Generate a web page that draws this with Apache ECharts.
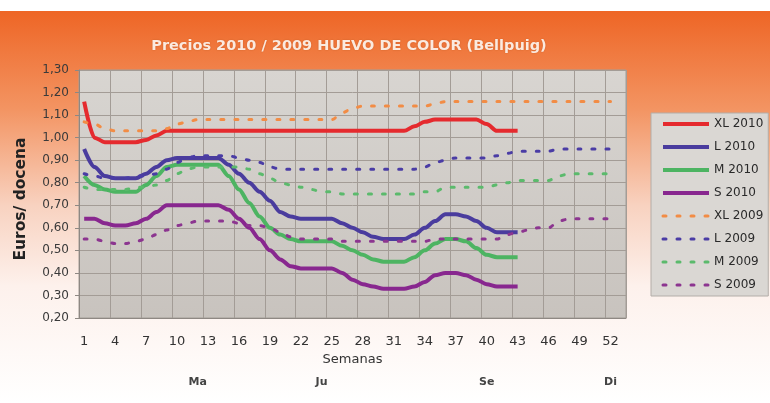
<!DOCTYPE html>
<html>
  <head>
      <meta charset="utf-8">
      <script src="https://cdn.jsdelivr.net/npm/echarts@6/dist/echarts.min.js"></script>
  </head>
  <body style="margin:0">
    <div id="main" style="width: 770px;height:403px;"></div>
    <script type="text/javascript">
        // weeks of the year (one extra slot at the end, like the original sheet)
        var weeks = [1,2,3,4,5,6,7,8,9,10,11,12,13,14,15,16,17,18,19,20,21,22,23,24,25,26,
                     27,28,29,30,31,32,33,34,35,36,37,38,39,40,41,42,43,44,45,46,47,48,49,50,51,52,53];

        // months written under the axis
        var monthWeeks = [12, 24, 40, 52];
        var monthNames = ['Ma', 'Ju', 'Se', 'Di'];

        // 2010 prices (weeks 1-43)
        var xl2010 = [1.16,1.00,0.98,0.98,0.98,0.98,0.99,1.01,1.03,1.03,1.03,1.03,1.03,1.03,1.03,1.03,1.03,1.03,1.03,1.03,
                      1.03,1.03,1.03,1.03,1.03,1.03,1.03,1.03,1.03,1.03,1.03,1.03,1.05,1.07,1.08,1.08,1.08,1.08,1.08,1.06,
                      1.03,1.03,1.03];
        var l2010  = [0.95,0.87,0.83,0.82,0.82,0.82,0.84,0.87,0.90,0.91,0.91,0.91,0.91,0.91,0.88,0.84,0.80,0.76,0.72,0.67,
                      0.65,0.64,0.64,0.64,0.64,0.62,0.60,0.58,0.56,0.55,0.55,0.55,0.57,0.60,0.63,0.66,0.66,0.65,0.63,0.60,
                      0.58,0.58,0.58];
        var m2010  = [0.83,0.79,0.77,0.76,0.76,0.76,0.79,0.83,0.87,0.88,0.88,0.88,0.88,0.88,0.83,0.77,0.71,0.65,0.60,0.57,
                      0.55,0.54,0.54,0.54,0.54,0.52,0.50,0.48,0.46,0.45,0.45,0.45,0.47,0.50,0.53,0.55,0.55,0.54,0.51,0.48,
                      0.47,0.47,0.47];
        var s2010  = [0.64,0.64,0.62,0.61,0.61,0.62,0.64,0.67,0.70,0.70,0.70,0.70,0.70,0.70,0.68,0.64,0.60,0.55,0.50,0.46,
                      0.43,0.42,0.42,0.42,0.42,0.40,0.37,0.35,0.34,0.33,0.33,0.33,0.34,0.36,0.39,0.40,0.40,0.39,0.37,0.35,
                      0.34,0.34,0.34];

        // 2009 prices (weeks 1-52)
        var xl2009 = [1.07,1.06,1.04,1.03,1.03,1.03,1.03,1.03,1.04,1.06,1.07,1.08,1.08,1.08,1.08,1.08,1.08,1.08,1.08,1.08,
                      1.08,1.08,1.08,1.08,1.08,1.11,1.13,1.14,1.14,1.14,1.14,1.14,1.14,1.14,1.15,1.16,1.16,1.16,1.16,1.16,
                      1.16,1.16,1.16,1.16,1.16,1.16,1.16,1.16,1.16,1.16,1.16,1.16];
        var l2009  = [0.84,0.83,0.82,0.82,0.82,0.83,0.83,0.84,0.86,0.89,0.91,0.92,0.92,0.92,0.92,0.91,0.90,0.89,0.87,0.86,
                      0.86,0.86,0.86,0.86,0.86,0.86,0.86,0.86,0.86,0.86,0.86,0.86,0.86,0.87,0.89,0.90,0.91,0.91,0.91,0.91,
                      0.92,0.93,0.94,0.94,0.94,0.94,0.95,0.95,0.95,0.95,0.95,0.95];
        var m2009  = [0.78,0.77,0.77,0.77,0.77,0.78,0.78,0.79,0.81,0.84,0.86,0.87,0.87,0.87,0.87,0.87,0.86,0.84,0.82,0.80,
                      0.79,0.78,0.77,0.76,0.76,0.75,0.75,0.75,0.75,0.75,0.75,0.75,0.75,0.76,0.76,0.78,0.78,0.78,0.78,0.78,
                      0.79,0.80,0.81,0.81,0.81,0.81,0.83,0.84,0.84,0.84,0.84,0.84];
        var s2009  = [0.55,0.55,0.54,0.53,0.53,0.54,0.55,0.57,0.59,0.61,0.62,0.63,0.63,0.63,0.63,0.62,0.61,0.61,0.60,0.58,
                      0.56,0.55,0.55,0.55,0.55,0.54,0.54,0.54,0.54,0.54,0.54,0.54,0.54,0.54,0.55,0.55,0.55,0.55,0.55,0.55,
                      0.55,0.57,0.58,0.59,0.60,0.60,0.63,0.64,0.64,0.64,0.64,0.64];

        var myChart = echarts.init(document.getElementById('main'));

        var font = 'DejaVu Sans';
        var dash = [3, 11];

        function solid(name, data, color) {
            return {
                name: name, type: 'line', data: data, symbol: 'none',
                smooth: 0.3, smoothMonotone: 'x',
                lineStyle: { color: color, width: 4 },
                itemStyle: { color: color }
            };
        }
        function dashed(name, data, color) {
            return {
                name: name, type: 'line', data: data, symbol: 'none',
                smooth: 0.3, smoothMonotone: 'x',
                lineStyle: { color: color, width: 3, type: dash, cap: 'round' },
                itemStyle: { color: color }
            };
        }

        var option = {
            animation: false,
            backgroundColor: {
                type: 'linear', x: 0, y: 0, x2: 0, y2: 1,
                colorStops: [
                    { offset: 0, color: '#EE6626' },
                    { offset: 0.03, color: '#EE6626' },
                    { offset: 0.27, color: '#F39462' },
                    { offset: 0.51, color: '#F8D2C0' },
                    { offset: 0.71, color: '#FDF1EC' },
                    { offset: 1, color: '#FFFFFF' }
                ]
            },
            graphic: [{
                type: 'rect', silent: true,
                shape: { x: 0, y: 0, width: 770, height: 11 },
                style: { fill: '#ffffff' }
            }],
            title: {
                text: 'Precios 2010 / 2009 HUEVO DE COLOR (Bellpuig)',
                left: 344,
                top: 34,
                textAlign: 'center',
                textStyle: {
                    fontFamily: font,
                    fontSize: 14.5,
                    fontWeight: 'bold',
                    color: '#FBEADF',
                    textShadowColor: 'rgba(140,50,0,0.35)',
                    textShadowBlur: 2
                }
            },
            legend: {
                orient: 'vertical',
                left: 651,
                top: 113,
                padding: [5, 5, 5, 10],
                itemWidth: 46,
                itemHeight: 14,
                itemGap: 11,
                itemStyle: { opacity: 0 },
                backgroundColor: '#DAD7D3',
                borderColor: '#B3ADA8',
                borderWidth: 1,
                textStyle: { fontFamily: font, fontSize: 12, color: '#2a2a2a' },
                data: [
                    { name: 'XL 2010', lineStyle: { width: 4 } },
                    { name: 'L 2010', lineStyle: { width: 4 } },
                    { name: 'M 2010', lineStyle: { width: 4 } },
                    { name: 'S 2010', lineStyle: { width: 4 } },
                    { name: 'XL 2009', lineStyle: { width: 3, type: dash, cap: 'round' } },
                    { name: 'L 2009', lineStyle: { width: 3, type: dash, cap: 'round' } },
                    { name: 'M 2009', lineStyle: { width: 3, type: dash, cap: 'round' } },
                    { name: 'S 2009', lineStyle: { width: 3, type: dash, cap: 'round' } }
                ]
            },
            grid: {
                left: 79, right: 144, top: 70, bottom: 85,
                show: true,
                backgroundColor: {
                    type: 'linear', x: 0, y: 0, x2: 0, y2: 1,
                    colorStops: [
                        { offset: 0, color: '#D8D5D1' },
                        { offset: 1, color: '#C8C3BE' }
                    ]
                },
                borderColor: '#A29C97',
                borderWidth: 1
            },
            xAxis: [{
                type: 'category',
                data: weeks,
                boundaryGap: true,
                name: 'Semanas',
                nameLocation: 'middle',
                nameGap: 33,
                nameTextStyle: { fontFamily: font, fontSize: 13, color: '#333' },
                axisLine: { lineStyle: { color: '#8E8883' } },
                axisTick: { interval: 2, length: 5, lineStyle: { color: '#8E8883' } },
                splitLine: { show: true, interval: 2, lineStyle: { color: '#A39C96' } },
                axisLabel: { interval: 2, margin: 17, fontFamily: font, fontSize: 13, color: '#333' }
            }, {
                type: 'category',
                data: weeks,
                boundaryGap: true,
                position: 'bottom',
                offset: 51,
                axisLine: { show: false },
                axisTick: { show: false },
                splitLine: { show: false },
                axisLabel: {
                    interval: 0, margin: 8,
                    fontFamily: font, fontSize: 11, fontWeight: 'bold', color: '#444',
                    formatter: function (v) {
                        var i = monthWeeks.indexOf(Number(v));
                        return i >= 0 ? monthNames[i] : '';
                    }
                }
            }],
            yAxis: {
                type: 'value',
                min: 0.2,
                max: 1.3,
                interval: 0.1,
                name: 'Euros/ docena',
                nameLocation: 'middle',
                nameGap: 50,
                nameRotate: 90,
                nameTextStyle: {
                    fontFamily: font, fontSize: 15.5, fontWeight: 'bold', color: '#222',
                    padding: [0, 10, 0, 0]
                },
                axisLine: { show: true, lineStyle: { color: '#8E8883' } },
                axisTick: { show: true, length: 4, lineStyle: { color: '#8E8883' } },
                splitLine: { lineStyle: { color: '#A39C96' } },
                axisLabel: {
                    margin: 10, fontFamily: font, fontSize: 12, color: '#3a3a3a',
                    formatter: function (v) { return v.toFixed(2).replace('.', ','); }
                }
            },
            series: [
                solid('XL 2010', xl2010, '#E52A2E'),
                solid('L 2010', l2010, '#4A3C9E'),
                solid('M 2010', m2010, '#4DB462'),
                solid('S 2010', s2010, '#88278F'),
                dashed('XL 2009', xl2009, '#F28C45'),
                dashed('L 2009', l2009, '#4A3CA5'),
                dashed('M 2009', m2009, '#5BBA6C'),
                dashed('S 2009', s2009, '#8C3590')
            ]
        };
        myChart.setOption(option);
    </script>
  </body>
</html>
